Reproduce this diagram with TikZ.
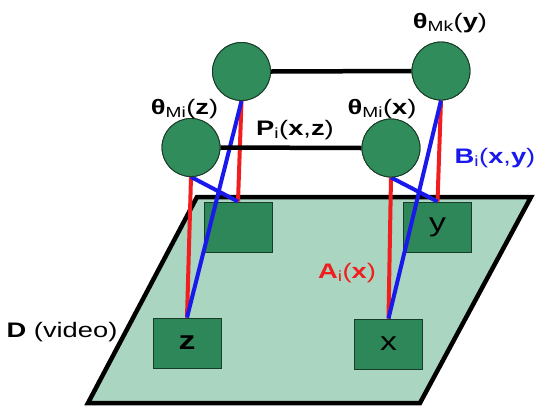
\documentclass[tikz,border=0pt]{standalone}
\usepackage{fontspec}
\setmainfont[FakeStretch=1.3]{Liberation Sans}
\definecolor{plane}{RGB}{170,213,192}
\definecolor{nodegreen}{RGB}{48,140,90}
\definecolor{boxgreen}{RGB}{46,135,88}
\definecolor{edgedark}{RGB}{25,60,40}
\definecolor{lred}{RGB}{240,30,30}
\definecolor{lblue}{RGB}{25,25,235}
\begin{document}
\begin{tikzpicture}[x=1pt,y=-1pt,
  circ/.style={circle,draw=edgedark,line width=0.9pt,fill=nodegreen,minimum size=58pt,inner sep=0pt},
  obox/.style={rectangle,draw=edgedark,line width=0.9pt,fill=boxgreen,minimum width=68pt,minimum height=50pt,inner sep=0pt},
  blk/.style={line width=4.5pt,black},
  redl/.style={line width=4pt,lred},
  bluel/.style={line width=4pt,lblue},
  lab/.style={inner sep=0pt,font=\fontsize{21}{25}\selectfont},
  boxlab/.style={inner sep=0pt,font=\fontsize{26}{30}\selectfont}
]
\useasboundingbox (0,0) rectangle (536,408);
% plane
\draw[blk,fill=plane,line join=miter] (197,197) -- (531,197) -- (420,403) -- (88,403) -- cycle;
% boxes
\node[obox] (btl) at (238,227) {};
\node[obox] (bz) at (187,343) {};
\node[obox] (by) at (437.5,227) {};
\node[obox] (bx) at (388.5,344) {};
% circles
\node[circ] (ctl) at (241.5,71.5) {};
\node[circ] (cbl) at (191,147.5) {};
\node[circ] (ctr) at (441,71) {};
\node[circ] (cbr) at (391,148) {};
% connectors
\draw[redl] (cbl.south) -- (bz.north);
\draw[redl] (ctl.south) -- (btl.north);
\draw[bluel] (cbl.south) -- (btl.north);
\draw[bluel] (ctl.south) -- (bz.north);
\draw[redl] (cbr.south) -- (bx.north);
\draw[redl] (ctr.south) -- (by.north);
\draw[bluel] (cbr.south) -- (by.north);
\draw[bluel] (ctr.south) -- (bx.north);
\draw[blk] (ctl.east) -- (ctr.west);
\draw[blk] (cbl.east) -- (cbr.west);
% redraw circles on top
\node[circ] at (ctl) {};
\node[circ] at (cbl) {};
\node[circ] at (ctr) {};
\node[circ] at (cbr) {};
% box letters
\node[boxlab,font=\fontsize{26}{30}\selectfont\bfseries] (tz) at (bz.center) {z};
\node[boxlab] (tx) at (bx.center) {x};
\node[boxlab] (ty) at (by.center) {y};
% labels
\node[lab] (lmk) at (450,23) {\textbf{θ}\textsubscript{Mk}(\textbf{y})};
\node[lab] (lmiz) at (184.6,109) {\textbf{θ}\textsubscript{Mi}(\textbf{z})};
\node[lab] (lmix) at (382,109) {\textbf{θ}\textsubscript{Mi}(\textbf{x})};
\node[lab] (lp) at (295,130) {\textbf{P}\textsubscript{i}(\textbf{x},\textbf{z})};
\node[lab,text=lblue] (lb) at (495,158) {\textbf{B}\textsubscript{i}(\textbf{x},\textbf{y})};
\node[lab,text=lred] (la) at (347,273) {\textbf{A}\textsubscript{i}(\textbf{x})};
\node[lab] (ld) at (62,332) {\textbf{D} (video)};
\end{tikzpicture}
\end{document}
